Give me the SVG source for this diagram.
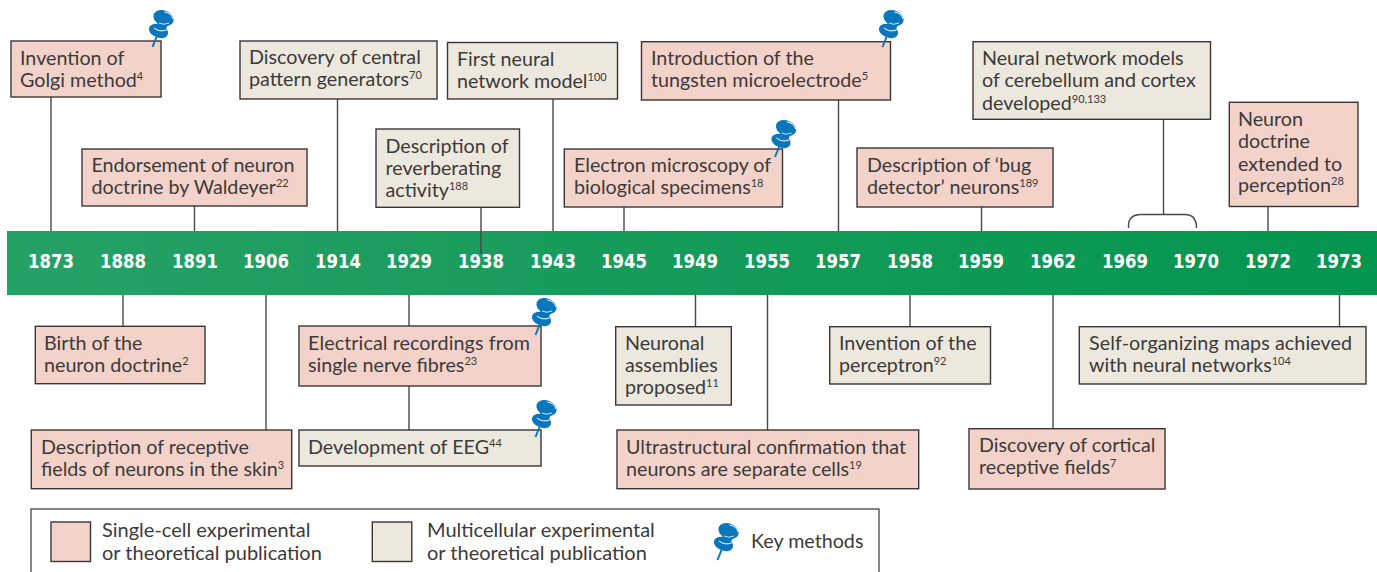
<svg xmlns="http://www.w3.org/2000/svg" xmlns:xlink="http://www.w3.org/1999/xlink" width="1377" height="572" viewBox="0 0 1377 572">
<style>
text{font-family:"Lato","Open Sans",sans-serif;font-size:19.7px;fill:#3c3a3a}
.s{fill:#f3d2c9;stroke:#3a3635;stroke-width:1.4}
.m{fill:#ece8dd;stroke:#3a3635;stroke-width:1.4}
.c line,.c path{stroke:#4a4747;stroke-width:1.4;fill:none}
.y{font-family:"DejaVu Sans",sans-serif;font-weight:700;font-size:20px;fill:#fff;text-anchor:middle}
.u{font-size:11px}
.l{font-size:20px}
</style>
<defs>
<linearGradient id="bar" x1="0" x2="1" y1="0" y2="0"><stop offset="0" stop-color="#26a165"/><stop offset="1" stop-color="#049550"/></linearGradient>
<g id="pin">
<path d="M0 0L4 -10" stroke="#0a76bc" stroke-width="2" fill="none"/>
<ellipse cx="6" cy="-16" rx="10" ry="6.600" transform="rotate(22 6 -16)" fill="#0a76bc"/>
<path d="M3.500 -20L8.500 -32L18 -28L12.500 -16Z" fill="#0a76bc"/>
<ellipse cx="11" cy="-29" rx="10.500" ry="7.500" transform="rotate(22 11 -29)" fill="#0a76bc"/>
<path d="M1.500 -19Q7 -14.500 14 -17" stroke="#fff" stroke-width="1" fill="none"/>
<path d="M6.500 -24Q11 -21.500 16.500 -24" stroke="#fff" stroke-width=".8" fill="none"/>
<path d="M12 -35Q19 -34 20.500 -28" stroke="#fff" stroke-width="1" fill="none"/>
</g>
</defs>
<g id="timeline-bar">
<rect x="7" y="231" width="1370" height="64" fill="url(#bar)"/>
<text class="y" x="51" y="268" textLength="46" lengthAdjust="spacingAndGlyphs">1873</text><text class="y" x="123" y="268" textLength="46" lengthAdjust="spacingAndGlyphs">1888</text><text class="y" x="195" y="268" textLength="46" lengthAdjust="spacingAndGlyphs">1891</text><text class="y" x="266" y="268" textLength="46" lengthAdjust="spacingAndGlyphs">1906</text><text class="y" x="338" y="268" textLength="46" lengthAdjust="spacingAndGlyphs">1914</text><text class="y" x="409" y="268" textLength="46" lengthAdjust="spacingAndGlyphs">1929</text><text class="y" x="481" y="268" textLength="46" lengthAdjust="spacingAndGlyphs">1938</text><text class="y" x="553" y="268" textLength="46" lengthAdjust="spacingAndGlyphs">1943</text><text class="y" x="624" y="268" textLength="46" lengthAdjust="spacingAndGlyphs">1945</text><text class="y" x="695" y="268" textLength="46" lengthAdjust="spacingAndGlyphs">1949</text><text class="y" x="767" y="268" textLength="46" lengthAdjust="spacingAndGlyphs">1955</text><text class="y" x="838" y="268" textLength="46" lengthAdjust="spacingAndGlyphs">1957</text><text class="y" x="910" y="268" textLength="46" lengthAdjust="spacingAndGlyphs">1958</text><text class="y" x="981" y="268" textLength="46" lengthAdjust="spacingAndGlyphs">1959</text><text class="y" x="1053" y="268" textLength="46" lengthAdjust="spacingAndGlyphs">1962</text><text class="y" x="1125" y="268" textLength="46" lengthAdjust="spacingAndGlyphs">1969</text><text class="y" x="1196" y="268" textLength="46" lengthAdjust="spacingAndGlyphs">1970</text><text class="y" x="1268" y="268" textLength="46" lengthAdjust="spacingAndGlyphs">1972</text><text class="y" x="1339" y="268" textLength="46" lengthAdjust="spacingAndGlyphs">1973</text>
</g>
<g id="connectors" class="c">
<line x1="51" y1="97" x2="51" y2="231"/><line x1="194.500" y1="206" x2="194.500" y2="231"/><line x1="337.500" y1="99" x2="337.500" y2="231"/><line x1="481" y1="207" x2="481" y2="254"/><line x1="553" y1="99" x2="553" y2="231"/><line x1="624" y1="207" x2="624" y2="231"/><line x1="838.500" y1="100" x2="838.500" y2="231"/><line x1="981.500" y1="207" x2="981.500" y2="231"/><line x1="1163.500" y1="119" x2="1163.500" y2="214.500"/><path d="M1128.500 228V226Q1128.500 214.500 1141 214.500H1185Q1196.500 214.500 1196.500 228"/><line x1="1268" y1="207" x2="1268" y2="231"/>
<line x1="123" y1="295" x2="123" y2="326"/><line x1="266" y1="295" x2="266" y2="430"/><line x1="409" y1="295" x2="409" y2="326"/><line x1="409" y1="386" x2="409" y2="430"/><line x1="695.500" y1="295" x2="695.500" y2="326"/><line x1="767.500" y1="295" x2="767.500" y2="430"/><line x1="910" y1="295" x2="910" y2="326"/><line x1="1053" y1="295" x2="1053" y2="429"/><line x1="1339.500" y1="295" x2="1339.500" y2="326"/>
</g>
<g id="n-golgi"><rect class="s" x="11" y="41" width="150" height="56"/><text x="20" y="64.500">Invention of</text><text x="20" y="86.500">Golgi method<tspan class="u" dy="-7">4</tspan></text><use xlink:href="#pin" x="152.500" y="47"/></g>
<g id="n-cpg"><rect class="m" x="240" y="41" width="197" height="58"/><text x="249" y="64">Discovery of central</text><text x="249" y="86">pattern generators<tspan class="u" dy="-7">70</tspan></text></g>
<g id="n-first"><rect class="m" x="447.500" y="42.500" width="170" height="56.500"/><text x="457" y="65.500">First neural</text><text x="457" y="88">network model<tspan class="u" dy="-7">100</tspan></text></g>
<g id="n-tungsten"><rect class="s" x="641.500" y="41.700" width="249" height="58.300"/><text x="651" y="65">Introduction of the</text><text x="651" y="87">tungsten microelectrode<tspan class="u" dy="-7">5</tspan></text><use xlink:href="#pin" x="882.500" y="47"/></g>
<g id="n-networks"><rect class="m" x="973" y="41.700" width="237.500" height="77.600"/><text x="982" y="65">Neural network models</text><text x="982" y="87">of cerebellum and cortex</text><text x="982" y="110">developed<tspan class="u" dy="-7">90,133</tspan></text></g>
<g id="n-perception"><rect class="s" x="1229.300" y="102.300" width="128.700" height="104.200"/><text x="1238" y="126">Neuron</text><text x="1238" y="148">doctrine</text><text x="1238" y="170.500">extended to</text><text x="1238" y="192.300">perception<tspan class="u" dy="-7">28</tspan></text></g>
<g id="n-waldeyer"><rect class="s" x="82" y="149" width="225" height="57"/><text x="91.500" y="172" textLength="203">Endorsement of neuron</text><text x="91.500" y="194">doctrine by Waldeyer<tspan class="u" dy="-7">22</tspan></text></g>
<g id="n-reverb"><rect class="m" x="376" y="129" width="143.500" height="78.300"/><text x="385.500" y="153">Description of</text><text x="385.500" y="175">reverberating</text><text x="385.500" y="197">activity<tspan class="u" dy="-7">188</tspan></text></g>
<g id="n-electron"><rect class="s" x="564.300" y="149" width="218.200" height="58"/><text x="574" y="172.300">Electron microscopy of</text><text x="574" y="194.300">biological specimens<tspan class="u" dy="-7">18</tspan></text><use xlink:href="#pin" x="775" y="157"/></g>
<g id="n-bug"><rect class="s" x="857" y="148" width="196" height="59"/><text x="867" y="172">Description of ‘bug</text><text x="867" y="193.500">detector’ neurons<tspan class="u" dy="-7">189</tspan></text></g>
<g id="n-birth"><rect class="s" x="35.300" y="326.300" width="169.700" height="57.400"/><text x="44" y="350">Birth of the</text><text x="44" y="372">neuron doctrine<tspan class="u" dy="-7">2</tspan></text></g>
<g id="n-electrical"><rect class="s" x="299" y="326" width="242" height="60"/><text x="308" y="350" textLength="222">Electrical recordings from</text><text x="308" y="372">single nerve fibres<tspan class="u" dy="-7">23</tspan></text><use xlink:href="#pin" x="535.500" y="335"/></g>
<g id="n-eeg"><rect class="m" x="299" y="430" width="242" height="36"/><text x="308" y="454">Development of EEG<tspan class="u" dy="-7">44</tspan></text><use xlink:href="#pin" x="535.500" y="437"/></g>
<g id="n-assemblies"><rect class="m" x="615.700" y="326.700" width="115.600" height="78.300"/><text x="625" y="350">Neuronal</text><text x="625" y="372">assemblies</text><text x="625" y="394">proposed<tspan class="u" dy="-7">11</tspan></text></g>
<g id="n-perceptron"><rect class="m" x="829.700" y="326.700" width="160.800" height="57.300"/><text x="839" y="350">Invention of the</text><text x="839" y="372">perceptron<tspan class="u" dy="-7">92</tspan></text></g>
<g id="n-som"><rect class="m" x="1079.300" y="326.700" width="286.700" height="57.300"/><text x="1089" y="350" textLength="263">Self-organizing maps achieved</text><text x="1089" y="372">with neural networks<tspan class="u" dy="-7">104</tspan></text></g>
<g id="n-skin"><rect class="s" x="31.300" y="430" width="260.400" height="58.700"/><text x="41" y="454">Description of receptive</text><text x="41" y="476">fields of neurons in the skin<tspan class="u" dy="-7">3</tspan></text></g>
<g id="n-ultra"><rect class="s" x="617" y="430" width="301.700" height="58.700"/><text x="626" y="454">Ultrastructural confirmation that</text><text x="626" y="476">neurons are separate cells<tspan class="u" dy="-7">19</tspan></text></g>
<g id="n-cortical"><rect class="s" x="969" y="428.700" width="196" height="60.300"/><text x="979" y="452">Discovery of cortical</text><text x="979" y="474">receptive fields<tspan class="u" dy="-7">7</tspan></text></g>
<g id="legend">
<rect x="31" y="509" width="848" height="80" fill="#fff" stroke="#3a3635" stroke-width="1.2"/>
<rect class="s" x="51" y="522" width="39.500" height="39.500"/><text class="l" x="102" y="537">Single-cell experimental</text><text class="l" x="102" y="559.500">or theoretical publication</text>
<rect class="m" x="372.300" y="522" width="39.500" height="39.500"/><text class="l" x="427" y="537">Multicellular experimental</text><text class="l" x="427" y="559.500">or theoretical publication</text>
<use xlink:href="#pin" x="717.500" y="560"/><text x="751" y="548">Key methods</text>
</g>
</svg>
